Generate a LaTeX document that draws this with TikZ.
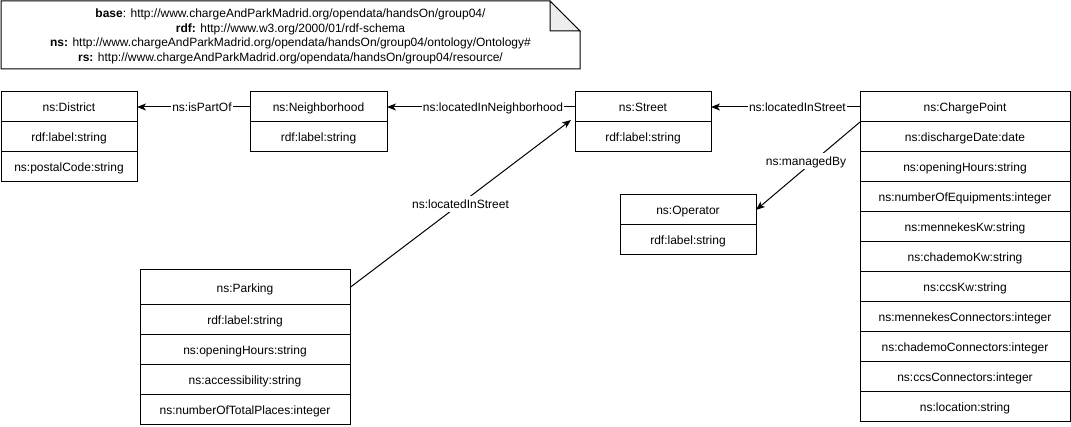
\documentclass[tikz,border=0pt]{standalone}
\usepackage{fontspec}
\setmainfont{Liberation Sans}
\usetikzlibrary{arrows.meta,calc}
\begin{document}
\begin{tikzpicture}[x=1pt,y=-1pt,
  font=\fontsize{12}{14.7}\selectfont,
  every path/.style={line width=1pt},
  cell/.style={draw, fill=white, minimum height=30pt, minimum width=#1,
    inner sep=0pt, outer sep=0pt, text height=12pt, text depth=2pt},
  conn/.style={draw, -{Stealth[length=9pt,width=7pt,inset=2.5pt]}},
  lbl/.style={fill=white, inner sep=1pt, text height=12pt, text depth=2pt}]
\useasboundingbox (0,0) rectangle (1071,427);

% namespace note with folded corner
\draw[fill=white] (1,1) -- (550,1) -- (580,31) -- (580,69) -- (1,69) -- cycle;
\draw[fill=black!7] (550,1) -- (550,31) -- (580,31) -- cycle;
\node[align=center, inner sep=0pt] (prefixes) at (290.5,36.5)
  {\textbf{base}: http://www.chargeAndParkMadrid.org/opendata/handsOn/group04/\\
   \textbf{rdf:} http://www.w3.org/2000/01/rdf-schema\\
   \textbf{ns:} http://www.chargeAndParkMadrid.org/opendata/handsOn/group04/ontology/Ontology\#\\
   \textbf{rs:} http://www.chargeAndParkMadrid.org/opendata/handsOn/group04/resource/};

% ns:District
\node[cell=136pt] (d0) at (69,107) {ns:District};
\node[cell=136pt] (d1) at (69,137) {rdf:label:string};
\node[cell=136pt] (d2) at (69,167) {ns:postalCode:string};

% ns:Neighborhood
\node[cell=137pt] (nb0) at (318.5,107) {ns:Neighborhood};
\node[cell=137pt] (nb1) at (318.5,137) {rdf:label:string};

% ns:Street
\node[cell=136pt] (st0) at (643,107) {ns:Street};
\node[cell=136pt] (st1) at (643,137) {rdf:label:string};

% ns:Operator
\node[cell=136pt] (op0) at (688,210) {ns:Operator};
\node[cell=136pt] (op1) at (688,240) {rdf:label:string};

% ns:ChargePoint
\node[cell=210pt] (cp0)  at (965,107) {ns:ChargePoint};
\node[cell=210pt] (cp1)  at (965,137) {ns:dischargeDate:date};
\node[cell=210pt] (cp2)  at (965,167) {ns:openingHours:string};
\node[cell=210pt] (cp3)  at (965,197) {ns:numberOfEquipments:integer};
\node[cell=210pt] (cp4)  at (965,227) {ns:mennekesKw:string};
\node[cell=210pt] (cp5)  at (965,257) {ns:chademoKw:string};
\node[cell=210pt] (cp6)  at (965,287) {ns:ccsKw:string};
\node[cell=210pt] (cp7)  at (965,317) {ns:mennekesConnectors:integer};
\node[cell=210pt] (cp8)  at (965,347) {ns:chademoConnectors:integer};
\node[cell=210pt] (cp9)  at (965,377) {ns:ccsConnectors:integer};
\node[cell=210pt] (cp10) at (965,407) {ns:location:string};

% ns:Parking
\node[cell=210pt, minimum height=35pt] (pk0) at (245,287.5) {ns:Parking};
\node[cell=210pt] (pk1) at (245,320) {rdf:label:string};
\node[cell=210pt] (pk2) at (245,350) {ns:openingHours:string};
\node[cell=210pt] (pk3) at (245,380) {ns:accessibility:string};
\node[cell=210pt] (pk4) at (245,410) {ns:numberOfTotalPlaces:integer};

% object properties
\draw[conn] (cp0.west) -- node[lbl, pos=0.42] (e1) {ns:locatedInStreet} (st0.east);
\draw[conn] (st0.west) -- node[lbl, pos=0.436] (e2) {ns:locatedInNeighborhood} (nb0.east);
\draw[conn] (nb0.west) -- node[lbl, pos=0.425] (e3) {ns:isPartOf} (d0.east);
\draw[conn] (pk0.east) -- node[lbl] (e4) {ns:locatedInStreet} ($(st0.south west)+(-4,-2)$);
\draw[conn] (cp0.south west) -- (op0.east);
\node[lbl] (e5) at (806,161) {ns:managedBy};
\end{tikzpicture}
\end{document}
